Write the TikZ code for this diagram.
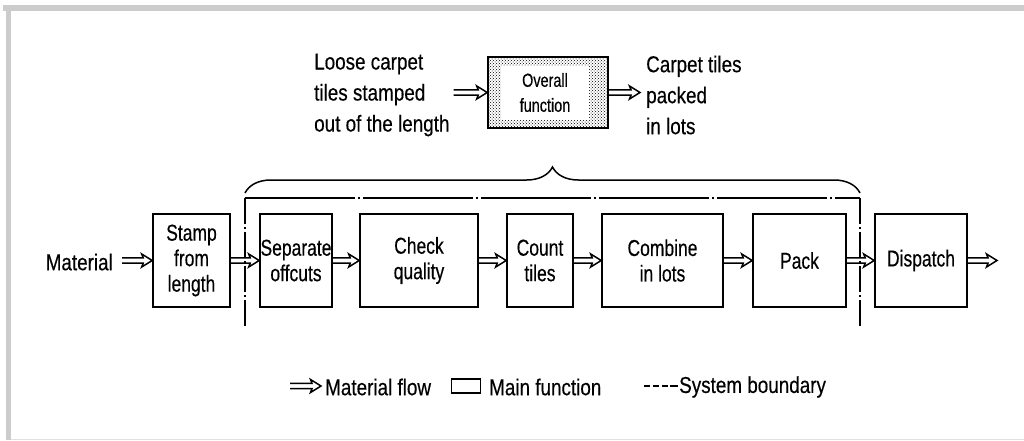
\documentclass[tikz,border=0pt]{standalone}
\usepackage{fontspec}
\setmainfont{Liberation Sans}[FakeStretch=0.76,FakeBold=0.35]
\newfontfamily\widefont{Liberation Sans}[FakeStretch=0.82,FakeBold=0.35]
\usetikzlibrary{calc,patterns,decorations.pathreplacing}
\begin{document}
\begin{tikzpicture}[x=1pt,y=-1pt,
  box/.style={draw,line width=1.6pt,minimum height=93pt,inner sep=0pt,align=center,
    font=\fontsize{23}{25.5}\selectfont},
  txt/.style={inner sep=0pt,align=left,font=\widefont\fontsize{23}{31}\selectfont},
  arr/.style={line width=1.5pt,line join=miter},
  flow/.style={
    to path={($(\tikztostart)+(0,2.6)$) -- ($(\tikztotarget)+(-9,2.6)$)
      -- ($(\tikztotarget)+(-10.5,6.5)$) -- (\tikztotarget)
      -- ($(\tikztotarget)+(-10.5,-6.5)$) -- ($(\tikztotarget)+(-9,-2.6)$)
      -- ($(\tikztostart)+(0,-2.6)$)}},
  hbound/.style={line width=1.4pt,dash pattern=on 110pt off 3pt on 2pt off 3pt},
  vbound/.style={line width=1.4pt,dash pattern=on 26pt off 3pt on 2pt off 3pt},
  brc/.style={line width=1.5pt,decorate,decoration={brace,amplitude=26pt,aspect=0.5}},
  frame/.style={fill=black!20,draw=none},
]
\useasboundingbox (0,0) rectangle (1024,440);
% frame
\fill[frame] (3,5) rectangle (1024,11);
\fill[frame] (6,5) rectangle (11,440);
\draw[black!12,line width=1pt] (11,439) -- (1024,439);

% top: overall function
\node[draw,line width=1.6pt,pattern=crosshatch dots,minimum width=120pt,minimum height=71pt,inner sep=0pt] (ov) at (548,92.5) {};
\node[fill=white,minimum width=88pt,minimum height=54pt,inner sep=0pt,align=center,
  font=\fontsize{19}{25}\selectfont] (ovt) at (545,92.5) {Overall\\function};
\node[txt,anchor=west] (lt) at (314,95) {Loose carpet\\tiles stamped\\out of the length};
\node[txt,anchor=west] (rt) at (646,95) {Carpet tiles\\packed\\in lots};
\draw[arr] ($(lt.east |- ov.west)+(4,0)$) to[flow] (ov.west);
\coordinate (rtin) at ($(rt.west |- ov.east)+(-6,0)$);
\draw[arr] (ov.east) to[flow] (rtin);

% brace
\coordinate (brl) at (245,193);
\coordinate (brr) at (860,193);
\draw[brc] (brl) -- (brr);

% system boundary
\coordinate (bl) at (245,326);
\coordinate (tl) at (245,198);
\coordinate (tr) at (860,198);
\coordinate (br) at (860,326);
\draw[vbound] (bl) -- (tl);
\draw[hbound] (tl) -- (tr);
\draw[vbound] (br) -- (tr);

% main chain
\node[txt,anchor=east] (mat) at (113,262) {Material};
\node[box,minimum width=77pt] (stamp) at (191.5,260.5) {Stamp\\from\\length};
\node[box,minimum width=72pt] (sep) at (296,260.5) {Separate\\offcuts};
\node[box,minimum width=118pt] (check) at (419,260.5) {Check\\quality};
\node[box,minimum width=66pt] (count) at (540,260.5) {Count\\tiles};
\node[box,minimum width=121pt] (comb) at (662.5,260.5) {Combine\\in lots};
\node[box,minimum width=93pt] (pack) at (799.5,260.5) {Pack};
\node[box,minimum width=92pt] (disp) at (921,260.5) {Dispatch};
\coordinate (out) at (997,260.5);

\draw[arr] ($(mat.east |- stamp.west)+(9,0)$) to[flow] (stamp.west);
\draw[arr] (stamp.east) to[flow] (sep.west);
\draw[arr] (sep.east) to[flow] (check.west);
\draw[arr] (check.east) to[flow] (count.west);
\draw[arr] (count.east) to[flow] (comb.west);
\draw[arr] (comb.east) to[flow] (pack.west);
\draw[arr] (pack.east) to[flow] (disp.west);
\draw[arr] (disp.east) to[flow] (out);

% legend
\coordinate (lf1) at (290,386);
\coordinate (lf2) at (321,386);
\draw[arr] (lf1) to[flow] (lf2);
\node[txt,anchor=west] (lmf) at (325,387) {Material flow};
\node[draw,line width=1.5pt,minimum width=29pt,minimum height=14pt,inner sep=0pt] (lbox) at (466,386) {};
\node[txt,anchor=west] (lmain) at (489,387) {Main function};
\coordinate (ld1) at (644,386);
\coordinate (ld2) at (678,386);
\draw[line width=1.3pt,dash pattern=on 6pt off 3pt on 6pt off 3pt on 6pt off 2pt on 20pt] (ld1) -- (ld2);
\node[txt,anchor=west] (lsys) at (679,387) {System boundary};
\end{tikzpicture}
\end{document}
